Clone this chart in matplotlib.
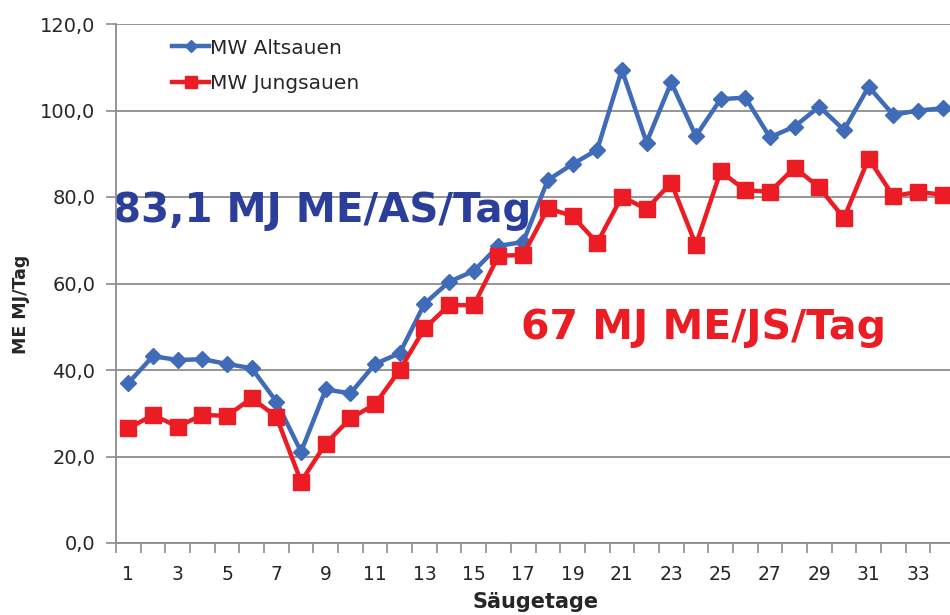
import numpy as np
import matplotlib.pyplot as plt
from matplotlib.ticker import FixedLocator, FuncFormatter

# Säugetage 1..34
tage = list(range(1, 35))

altsauen = [37.0, 43.2, 42.3, 42.5, 41.4, 40.4, 32.7, 21.1, 35.5, 34.6,
            41.4, 43.9, 55.3, 60.4, 62.9, 68.7, 69.6, 83.9, 87.6, 90.9,
            109.4, 92.6, 106.5, 94.1, 102.6, 103.0, 93.8, 96.3, 100.9, 95.5,
            105.5, 99.0, 100.0, 100.5]

jungsauen = [26.5, 29.6, 26.9, 29.6, 29.4, 33.5, 29.2, 14.2, 23.0, 28.8,
             32.1, 40.0, 49.6, 55.0, 55.0, 66.4, 66.6, 77.4, 75.6, 69.4,
             80.1, 77.2, 83.3, 68.9, 85.9, 81.6, 81.2, 86.8, 82.2, 75.1,
             88.9, 80.2, 81.2, 80.5]

label_as = "83,1 MJ ME/AS/Tag"
label_js = "67 MJ ME/JS/Tag"

blue = "#3F6BB8"
red = "#EC1C24"
grid_col = "#8C8C8C"
text_col = "#262626"

fig = plt.figure(figsize=(9.5, 6.15), dpi=100)
ax = fig.add_axes([116/950, 1 - 543/615, (955 - 116)/950, (543 - 24)/615])

ax.plot(tage, altsauen, color=blue, lw=3.2, marker="D", ms=8,
        label="MW Altsauen", clip_on=False, zorder=3)
ax.plot(tage, jungsauen, color=red, lw=3.2, marker="s", ms=11,
        label="MW Jungsauen", clip_on=False, zorder=3)

ax.set_xlim(0.5, 34.5)
ax.set_ylim(0, 120)
ax.set_yticks(np.arange(0, 121, 20))
ax.yaxis.set_major_formatter(FuncFormatter(lambda v, p: f"{v:.1f}".replace(".", ",")))

ax.xaxis.set_major_locator(FixedLocator(tage[::2]))
ax.xaxis.set_minor_locator(FixedLocator(np.arange(0.5, 35, 1)))
ax.tick_params(axis="x", which="major", length=0, labelsize=13.5, pad=16, labelcolor=text_col)
ax.tick_params(axis="x", which="minor", length=7, width=1.2, color=grid_col)
ax.tick_params(axis="y", length=7, width=1.2, color=grid_col, labelsize=14, pad=8, labelcolor=text_col)

ax.grid(axis="y", color=grid_col, lw=1.3)
ax.set_axisbelow(True)
for s in ["top", "right"]:
    ax.spines[s].set_visible(False)
for s in ["left", "bottom"]:
    ax.spines[s].set_color(grid_col)
    ax.spines[s].set_linewidth(1.3)

ax.set_ylabel("ME MJ/Tag", fontsize=12.5, fontweight="bold", color=text_col)
ax.yaxis.set_label_coords(-86/839, (543 - 304)/519)
ax.set_xlabel("Säugetage", fontsize=15, fontweight="bold", color=text_col, va="top")
ax.xaxis.set_label_coords((536 - 116)/839, -(592 - 543)/519)

ax.text(0.38, 76.8, label_as, color="#2B3F9A", fontsize=29, fontweight="bold",
        va="center", ha="left", zorder=2)
ax.text(16.9, 49.8, label_js, color=red, fontsize=29.5, fontweight="bold",
        va="center", ha="left", zorder=2)

leg = ax.legend(loc="upper left", bbox_to_anchor=((172 - 116)/839, 0.972), frameon=False,
                fontsize=14.5, handlelength=1.85, handletextpad=0.05, labelspacing=0.8,
                borderpad=0, borderaxespad=0, markerscale=0.75)
for t in leg.get_texts():
    t.set_color(text_col)

fig.savefig("out.png", dpi=100)
